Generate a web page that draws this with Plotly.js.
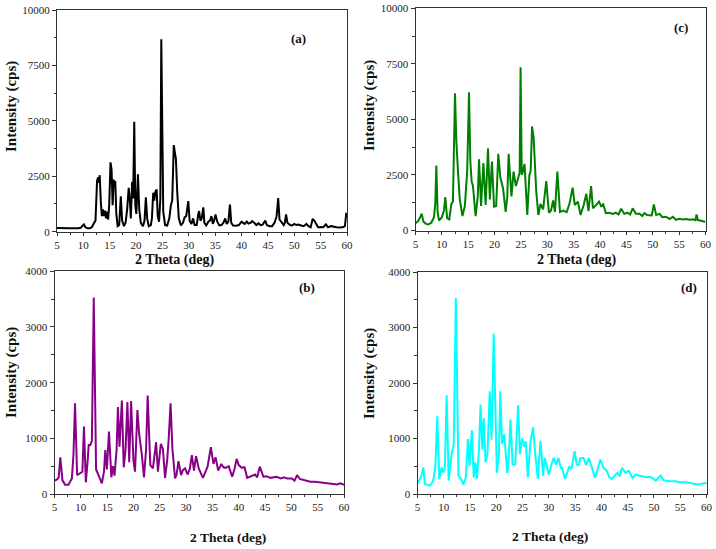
<!DOCTYPE html>
<html>
<head>
<meta charset="utf-8">
<script src="https://cdn.plot.ly/plotly-3.0.1.min.js"></script>
<style>html,body{margin:0;padding:0;background:#fff;}#chart{width:716px;height:549px;}</style>
</head>
<body>
<div id="chart"></div>
<script>
// Panel (a) – black
const a_x = [5.0,5.5,6.0,6.5,7.0,7.5,8.0,8.5,9.0,9.5,9.9,10.1,10.4,10.8,11.2,11.6,12.0,12.3,12.6,12.8,12.95,13.1,13.3,13.5,13.7,13.9,14.1,14.3,14.5,14.7,14.9,15.15,15.35,15.55,15.75,15.9,16.05,16.25,16.5,16.8,17.1,17.35,17.7,18.0,18.3,18.6,18.85,19.0,19.25,19.45,19.65,19.85,20.05,20.35,20.6,20.9,21.3,21.6,21.85,22.1,22.4,22.8,23.0,23.25,23.45,23.65,23.9,24.1,24.35,24.6,24.78,24.95,25.15,25.5,25.9,26.3,26.6,26.85,27.15,27.4,27.55,27.8,28.1,28.5,28.9,29.2,29.5,29.9,30.15,30.5,30.8,31.1,31.5,31.8,31.95,32.2,32.45,32.75,32.95,33.3,33.7,34.0,34.3,34.55,34.8,35.05,35.4,35.8,36.2,36.6,36.9,37.2,37.5,37.8,38.05,38.4,39.0,39.5,40.0,40.3,40.6,41.0,41.3,41.7,42.0,42.4,42.8,43.2,43.6,44.0,44.5,44.8,45.3,45.8,46.3,46.65,46.95,47.2,47.6,48.0,48.2,48.45,48.7,49.2,49.6,50.0,50.4,50.8,51.3,51.8,52.3,52.7,53.1,53.5,53.8,54.1,54.5,55.0,55.5,56.0,56.4,57.0,57.5,58.0,58.6,59.2,59.6,59.85,60.0];
const a_y = [170,160,165,155,160,150,155,150,160,180,300,330,200,150,150,200,380,500,2300,2450,2200,2550,1400,700,1000,700,950,600,900,550,1200,3130,2800,1200,2350,2000,2280,800,250,300,1600,500,250,400,1000,1980,1300,600,2250,1500,4960,1200,800,2590,1000,400,250,500,1550,600,250,300,600,1760,1400,1800,1910,700,450,1500,8680,4500,900,300,280,600,1200,1400,3910,3500,3300,1800,600,280,400,650,700,1380,500,350,600,300,300,800,930,500,600,1100,400,280,450,500,700,350,500,780,450,280,300,420,600,350,450,1220,400,280,270,300,450,400,350,460,370,400,480,400,300,380,300,320,500,300,250,250,420,700,1520,550,400,300,400,780,400,300,280,350,300,320,280,250,350,250,200,580,500,350,200,210,200,330,200,250,220,200,190,200,250,800,780];

// Panel (c) – green
const c_x = [5.0,5.5,5.9,6.17,6.5,7.0,7.4,8.0,8.5,8.75,8.95,9.2,9.46,10.0,10.4,10.65,11.0,11.4,11.8,12.1,12.49,12.75,13.06,13.4,13.9,14.36,14.8,15.15,15.4,15.65,15.9,16.4,16.8,17.05,17.43,17.87,18.3,18.75,19.1,19.5,19.9,20.3,20.7,21.1,21.6,22.1,22.4,22.66,23.2,23.6,24.04,24.5,24.75,24.93,25.15,25.37,25.68,26.2,26.6,26.85,27.1,27.4,27.9,28.3,28.7,29.2,29.5,29.8,30.3,30.7,31.1,31.45,31.9,32.4,33.0,33.67,34.2,34.8,35.2,35.5,35.8,36.3,36.9,37.4,37.8,38.3,38.65,39.3,39.8,40.2,40.6,41.1,41.8,42.4,43.0,43.5,44.0,44.6,45.2,45.7,46.2,46.8,47.5,48.0,48.4,48.9,49.4,49.8,50.2,50.65,51.3,51.8,52.5,53.2,53.8,54.4,55.0,55.7,56.3,57.0,57.6,58.1,58.3,58.55,59.0,59.6,60.0];
const c_y = [330,420,600,760,400,300,270,350,600,1200,2920,800,450,600,900,1500,560,500,1200,1300,6180,4000,2650,1400,650,1100,2650,6220,3100,2200,2000,650,1500,3200,1100,3030,1150,3700,1400,3100,1070,1100,3450,2370,1900,840,1500,3450,1530,2650,2000,2370,2600,7350,2500,2650,3000,700,2500,2700,4680,4200,1750,700,1200,950,1500,2220,800,900,1350,830,2650,830,900,830,1200,1930,1150,1250,1300,700,1150,1650,870,2000,1000,1150,1300,1100,1180,780,800,750,800,720,980,750,800,720,1000,750,750,650,780,700,700,680,1170,700,750,600,620,520,620,480,530,500,520,480,500,460,720,470,450,420,380];

// Panel (b) – purple
const b_x = [5.0,5.5,5.8,6.1,6.5,7.0,7.65,8.3,8.6,8.9,9.3,9.9,10.3,10.6,10.95,11.3,11.5,11.8,12.1,12.46,12.7,12.9,13.4,14.0,14.4,14.65,14.95,15.35,15.8,16.1,16.4,16.8,17.05,17.35,17.8,18.15,18.5,18.85,19.2,19.55,20.0,20.3,20.75,21.1,21.6,22.0,22.4,22.7,23.2,23.7,24.3,24.65,25.2,25.6,26.0,26.4,26.7,27.05,27.4,27.9,28.2,28.55,29.05,29.4,29.8,30.3,30.7,31.1,31.5,31.9,32.4,33.2,33.7,34.1,34.7,35.2,35.6,36.1,36.7,37.1,37.5,38.1,38.75,39.2,39.6,40.0,40.6,41.1,41.6,42.2,42.7,43.1,43.5,44.0,44.7,45.3,46.0,46.6,47.2,48.0,48.6,49.2,50.1,50.6,51.1,51.6,52.4,53.0,53.6,54.5,55.5,56.5,57.4,58.1,58.7,59.3,59.8,60.0];
const b_y = [240,260,300,660,250,167,167,280,700,1630,340,370,400,1210,210,600,880,880,950,3530,1200,440,330,190,400,790,440,1120,300,500,330,800,1560,850,1680,480,800,1650,570,1670,600,400,1510,1060,700,300,800,1770,520,460,930,400,900,810,290,600,1000,1630,810,280,350,590,340,430,460,350,450,700,420,680,460,290,400,500,840,540,660,420,540,480,470,500,310,450,630,520,470,480,290,310,330,350,300,490,310,320,290,300,310,280,300,280,280,240,340,270,250,240,220,220,210,200,190,175,170,190,170,165];

// Panel (d) – cyan
const d_x = [5.0,5.5,5.8,6.1,6.4,7.4,8.0,8.4,8.76,9.15,9.6,9.9,10.2,10.55,10.93,11.5,11.9,12.3,12.8,13.3,13.75,14.2,14.6,14.9,15.35,15.7,16.0,16.3,16.7,17.0,17.35,17.6,17.95,18.3,18.75,19.1,19.5,19.8,20.1,20.5,20.75,21.1,21.5,21.8,22.1,22.4,22.7,23.1,23.6,24.15,24.5,24.9,25.3,25.6,26.0,26.5,27.0,27.4,27.9,28.4,28.9,29.2,29.5,30.0,30.4,30.9,31.4,31.8,32.3,32.5,33.1,33.5,33.9,34.3,34.9,35.3,35.7,36.0,36.6,37.1,37.6,38.2,38.8,39.3,39.8,40.4,41.0,41.5,42.0,42.5,43.0,43.5,43.9,44.6,45.2,45.9,46.5,47.2,47.8,48.6,49.2,49.7,50.3,50.8,51.3,51.8,52.2,53.0,54.1,55.0,56.0,57.0,57.9,58.6,59.3,59.8,60.0];
const d_y = [200,270,350,480,180,150,240,500,1400,270,480,390,450,1780,240,720,900,3530,330,270,170,300,990,500,1150,300,570,270,800,1610,800,1370,570,700,1850,980,2890,1370,380,720,1850,900,1080,720,380,700,1340,530,530,1600,720,1000,850,950,300,950,1200,720,270,960,330,650,530,350,500,650,530,650,470,470,270,400,500,450,770,530,520,650,650,520,650,470,290,450,620,470,420,300,270,330,380,320,470,380,420,290,350,330,320,300,310,290,240,280,330,250,240,230,230,210,210,200,180,170,190,200,170];

const FONT = 'Liberation Serif, Times New Roman, serif';
const W = 716, H = 549;
const px = v => v / W;
const py = v => 1 - v / H;

function xax(l, r) {
  return {
    domain: [px(l), px(r)], range: [5, 60], dtick: 5, tick0: 5,
    ticks: 'outside', ticklen: 3, tickwidth: 1, tickcolor: '#333',
    minor: {dtick: 2.5, tick0: 5, ticks: 'outside', ticklen: 2, tickcolor: '#333', showgrid: false},
    showline: true, linecolor: '#333', linewidth: 1, mirror: true,
    showgrid: false, zeroline: false,
    tickfont: {family: FONT, size: 11, color: '#222'}
  };
}
function yax(t, b, max, dt, anchor) {
  return {
    domain: [py(b), py(t)], range: [0, max], dtick: dt, tick0: 0, anchor: anchor,
    tickformat: 'd', exponentformat: 'none', separatethousands: false,
    ticks: 'outside', ticklen: 4, tickwidth: 1, tickcolor: '#333',
    minor: {dtick: dt / 2, tick0: 0, ticks: 'outside', ticklen: 2.5, tickcolor: '#333', showgrid: false},
    showline: true, linecolor: '#333', linewidth: 1, mirror: true,
    showgrid: false, zeroline: false,
    tickfont: {family: FONT, size: 11, color: '#222'}
  };
}

const traces = [
  {x: a_x, y: a_y, xaxis: 'x', yaxis: 'y', type: 'scatter', mode: 'lines', line: {color: '#000000', width: 2}},
  {x: c_x, y: c_y, xaxis: 'x2', yaxis: 'y2', type: 'scatter', mode: 'lines', line: {color: '#008000', width: 2}},
  {x: b_x, y: b_y, xaxis: 'x3', yaxis: 'y3', type: 'scatter', mode: 'lines', line: {color: '#880088', width: 2}},
  {x: d_x, y: d_y, xaxis: 'x4', yaxis: 'y4', type: 'scatter', mode: 'lines', line: {color: '#00FFFF', width: 2}}
];

function ann(text, x, y, size, angle) {
  return {text: '<b>' + text + '</b>', xref: 'paper', yref: 'paper', x: px(x), y: py(y),
    xanchor: 'center', yanchor: 'middle', showarrow: false, textangle: angle || 0,
    font: {family: FONT, size: size, color: '#111'}};
}

const layout = {
  width: W, height: H, margin: {l: 0, r: 0, t: 0, b: 0},
  paper_bgcolor: '#ffffff', plot_bgcolor: '#ffffff', showlegend: false,
  xaxis: Object.assign(xax(57, 347), {anchor: 'y'}),
  yaxis: yax(10, 231.7, 10000, 2500, 'x'),
  xaxis2: Object.assign(xax(415.5, 705.5), {anchor: 'y2'}),
  yaxis2: yax(8.3, 230.5, 10000, 2500, 'x2'),
  xaxis3: Object.assign(xax(54.5, 344), {anchor: 'y3'}),
  yaxis3: yax(271.3, 494, 4000, 1000, 'x3'),
  xaxis4: Object.assign(xax(417.5, 706.5), {anchor: 'y4'}),
  yaxis4: yax(272, 494, 4000, 1000, 'x4'),
  annotations: [
    ann('Intensity (cps)', 11, 107, 15, -90),
    ann('Intensity (cps)', 369, 106, 15, -90),
    ann('Intensity (cps)', 11, 373, 15, -90),
    ann('Intensity (cps)', 369, 374, 15, -90),
    ann('2 Theta (deg)', 174, 260, 14),
    ann('2 Theta (deg)', 576, 260, 14),
    ann('2 Theta (deg)', 228, 537, 13.5),
    ann('2 Theta (deg)', 550, 536, 13.5),
    ann('(a)', 298, 38, 13),
    ann('(c)', 681, 27, 13),
    ann('(b)', 307, 287, 13),
    ann('(d)', 689, 287, 13)
  ]
};

Plotly.newPlot('chart', traces, layout, {displayModeBar: false, staticPlot: true});
</script>
</body>
</html>
